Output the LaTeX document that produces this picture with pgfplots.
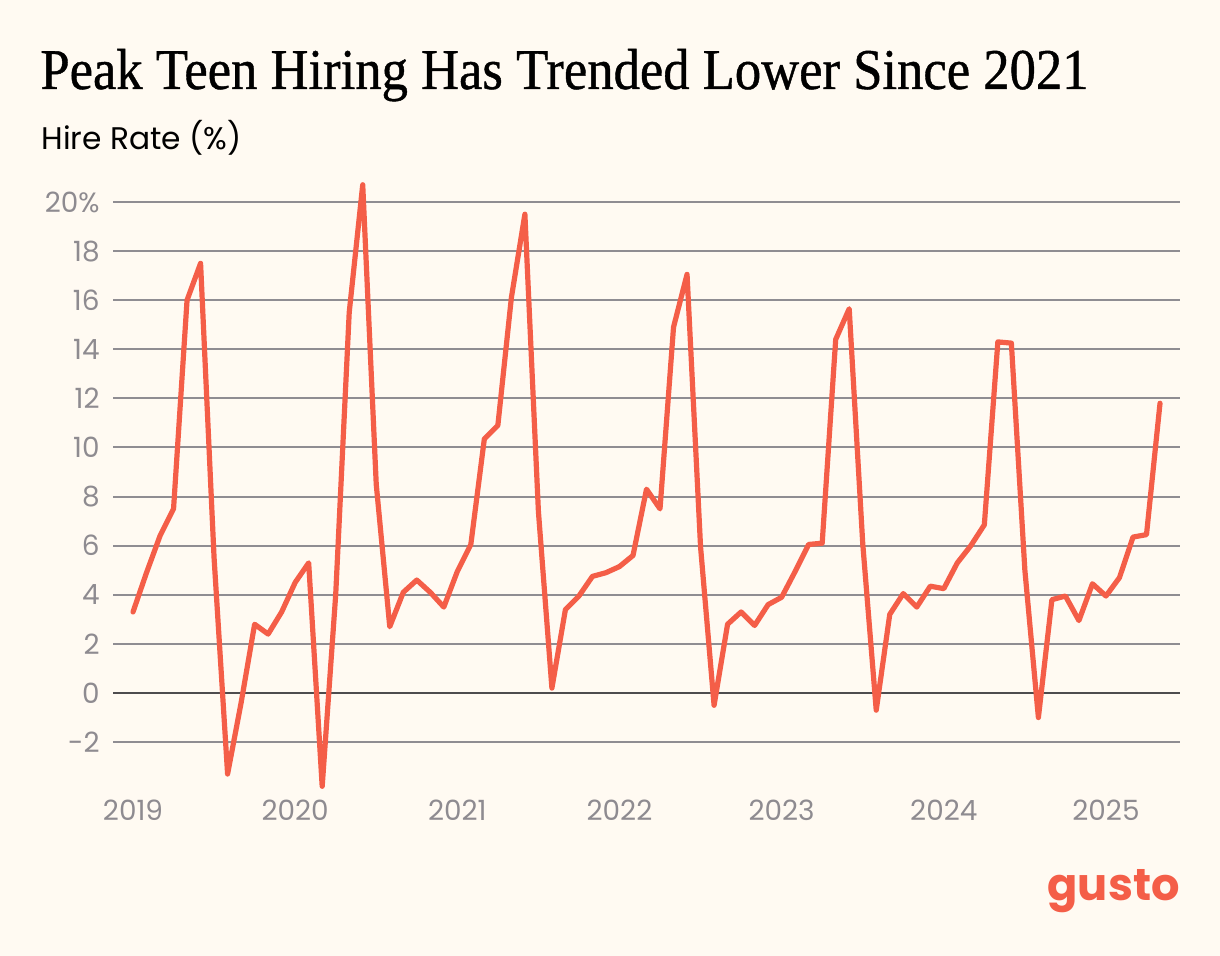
\documentclass[border=0pt]{standalone}
\usepackage{pgfplots}
\pgfplotsset{compat=1.18}
\usepackage{fontspec}
\setmainfont{Poppins}
\newfontfamily\titlefont[FakeBold=0.8]{Liberation Serif}
\definecolor{bg}{HTML}{FFFAF2}
\definecolor{coral}{HTML}{F45E48}
\definecolor{gridgray}{HTML}{8F8D92}
\definecolor{zerogray}{HTML}{4E4C4E}
\definecolor{labelgray}{HTML}{8E8B90}

\pgfplotstableread{
m v
0 3.3
1 4.9
2 6.4
3 7.5
4 16.0
5 17.5
6 5.5
7 -3.3
8 -0.4
9 2.8
10 2.4
11 3.3
12 4.5
13 5.3
14 -3.8
15 4.0
16 15.5
17 20.7
18 8.5
19 2.7
20 4.1
21 4.6
22 4.1
23 3.5
24 4.95
25 6.05
26 10.35
27 10.9
28 16.1
29 19.5
30 7.4
31 0.2
32 3.4
33 3.95
34 4.75
35 4.9
36 5.15
37 5.6
38 8.3
39 7.5
40 14.9
41 17.05
42 5.95
43 -0.5
44 2.8
45 3.3
46 2.75
47 3.6
48 3.9
49 4.95
50 6.05
51 6.1
52 14.4
53 15.65
54 6.1
55 -0.7
56 3.2
57 4.05
58 3.5
59 4.35
60 4.25
61 5.3
62 6.0
63 6.85
64 14.3
65 14.25
66 5.0
67 -1.0
68 3.8
69 3.95
70 2.95
71 4.45
72 3.95
73 4.7
74 6.35
75 6.45
76 11.8
}\hirerate

\begin{document}
\begin{tikzpicture}
\fill[bg] (0,0) rectangle (610bp,478bp);
\node[anchor=base west, inner sep=0pt] at (20bp,433.5bp)
  {\resizebox{524bp}{20bp}{\titlefont\fontsize{28}{30}\selectfont Peak Teen Hiring Has Trended Lower Since 2021}};
\node[anchor=base west, inner sep=0pt] at (20.5bp,403bp)
  {\resizebox{100bp}{!}{\fontsize{16}{18}\selectfont Hire Rate (\%)}};
\node[anchor=base east, inner sep=0pt, text=coral] at (590bp,28bp)
  {\resizebox{66bp}{!}{\fontsize{24}{26}\selectfont\bfseries gusto}};
\begin{axis}[
  at={(56.5bp,82.4bp)}, anchor=south west,
  scale only axis,
  width=533.5bp, height=306.9bp,
  xmin=-1.48, xmax=77.48,
  ymin=-4, ymax=21,
  axis line style={draw=none},
  major tick length=0pt,
  xtick={0,12,24,36,48,60,72},
  xticklabels={2019,2020,2021,2022,2023,2024,2025},
  ytick={-2,2,4,6,8,10,12,14,16,18,20},
  yticklabels={-2,2,4,6,8,10,12,14,16,18,20\%},
  extra y ticks={0},
  extra y tick labels={0},
  extra y tick style={grid style={draw=zerogray, line width=1bp}},
  ymajorgrids,
  grid style={draw=gridgray, line width=1bp},
  tick label style={font=\fontsize{14}{16}\selectfont, text=labelgray},
  yticklabel style={anchor=east, inner sep=0pt, xshift=-6.5bp},
  xticklabel style={anchor=north, inner sep=0pt, yshift=-4.4bp},
  clip=false,
]
\addplot[coral, line width=2.6bp, no marks, line join=round, line cap=round] table[x=m, y=v] {\hirerate};
\end{axis}
\end{tikzpicture}
\end{document}
